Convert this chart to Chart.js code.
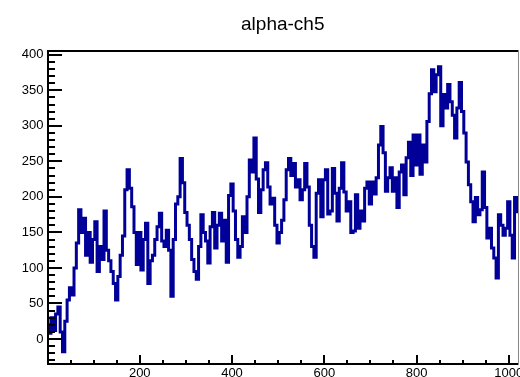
<!DOCTYPE html>
<html>
<head>
<meta charset="utf-8">
<script src="https://cdn.jsdelivr.net/npm/chart.js@4"></script>
<style>
  html, body { margin: 0; padding: 0; background: #fff; }
  #wrap { width: 520px; height: 377px; }
</style>
</head>
<body>
<div id="wrap"><canvas id="c" width="520" height="377"></canvas></div>
<script>
const TITLE = 'alpha-ch5';
const BIN_WIDTH = 5;
const X_MIN = 0, X_MAX = 1020;
const Y_MIN = -34.5, Y_MAX = 406;
const xTicks = [200, 400, 600, 800, 1000];
const yTicks = [0, 50, 100, 150, 200, 250, 300, 350, 400];

// counts per 5-channel bin (channel 0 .. 1020)
const counts = [
  20, 8, 30, 12, 35, 45, 10, -18, 25, 55,
  72, 62, 100, 135, 182, 150, 170, 118, 150, 108,
  140, 165, 95, 130, 112, 180, 125, 110, 95, 78,
  55, 88, 118, 145, 210, 238, 212, 186, 150, 105,
  150, 97, 140, 163, 78, 110, 118, 140, 158, 177,
  138, 130, 153, 125, 60, 140, 190, 200, 254, 220,
  178, 160, 140, 112, 95, 84, 130, 175, 150, 138,
  107, 158, 178, 128, 160, 177, 138, 167, 108, 202,
  218, 180, 140, 115, 130, 172, 150, 200, 252, 235,
  283, 225, 178, 210, 238, 248, 214, 190, 198, 160,
  135, 150, 167, 196, 238, 254, 230, 247, 214, 224,
  196, 210, 247, 214, 160, 130, 115, 205, 224, 172,
  224, 238, 176, 180, 240, 205, 166, 212, 248, 207,
  180, 193, 150, 152, 203, 156, 180, 166, 212, 221,
  190, 221, 204, 227, 273, 299, 262, 208, 227, 241,
  208, 227, 185, 235, 245, 203, 255, 277, 230, 287,
  245, 287, 232, 273, 249, 306, 345, 379, 348, 372,
  383, 300, 344, 325, 358, 334, 315, 283, 325, 361,
  320, 290, 249, 217, 193, 165, 199, 175, 182, 235,
  185, 142, 156, 128, 114, 86, 175, 160, 146, 156,
  193, 146, 114, 199, 179
];

const FONT = 'Liberation Sans, Arial, Helvetica, sans-serif';

// ROOT style frame: ticks drawn inward, thick frame, title over the plot
const rootFrame = {
  id: 'rootFrame',
  afterDatasetsDraw(chart) {
    const ctx = chart.ctx;
    const a = chart.chartArea;
    const x = chart.scales.x, y = chart.scales.y;
    const L = Math.round(a.left), R = Math.round(a.right);
    const T = Math.round(a.top), B = Math.round(a.bottom);
    ctx.save();
    ctx.fillStyle = '#000';

    for (let v = -30; v <= 400; v += 10) {
      const py = Math.round(y.getPixelForValue(v));
      const len = v % 50 === 0 ? 14 : 7;
      ctx.fillRect(L, py - 1, len, 2);
    }
    for (let v = 50; v <= 1000; v += 50) {
      const px = Math.round(x.getPixelForValue(v));
      const len = v % 200 === 0 ? 9 : 4;
      ctx.fillRect(px - 1, B - len, 2, len);
    }

    ctx.fillRect(L - 1, T - 1, R - L + 1, 2);
    ctx.fillRect(L - 1, T - 1, 2, B - T + 2);
    ctx.fillRect(L - 1, B - 1, R - L + 1, 2);
    ctx.fillStyle = '#888';
    ctx.fillRect(R, T - 1, 1, B - T + 2);

    ctx.fillStyle = '#000';
    ctx.font = '19px ' + FONT;
    ctx.textAlign = 'center';
    ctx.textBaseline = 'middle';
    ctx.fillText(TITLE, (a.left + a.right) / 2, 25);
    ctx.restore();
  }
};

new Chart(document.getElementById('c'), {
  type: 'line',
  data: {
    datasets: [{
      data: counts.map((v, i) => ({ x: i * BIN_WIDTH, y: v })),
      borderColor: '#000099',
      borderWidth: 3,
      pointRadius: 0,
      stepped: 'middle',
      fill: false
    }]
  },
  options: {
    responsive: false,
    animation: false,
    devicePixelRatio: 1,
    layout: { padding: { top: 50.5, right: 2, left: 0, bottom: 0 } },
    plugins: { legend: { display: false }, title: { display: false }, tooltip: { enabled: false } },
    scales: {
      x: {
        type: 'linear',
        min: X_MIN,
        max: X_MAX,
        grid: { display: false, drawTicks: false, tickLength: 0 },
        border: { display: false },
        ticks: {
          color: '#000', font: { family: FONT, size: 13 }, padding: 2, maxRotation: 0, autoSkip: false,
          callback: v => String(v)
        },
        afterBuildTicks: s => { s.ticks = xTicks.map(v => ({ value: v })); },
        afterFit: s => { s.height = 13.5; s.paddingLeft = 0; s.paddingRight = 0; }
      },
      y: {
        type: 'linear',
        min: Y_MIN,
        max: Y_MAX,
        grid: { display: false, drawTicks: false, tickLength: 0 },
        border: { display: false },
        ticks: { color: '#000', font: { family: FONT, size: 13 }, padding: 4, callback: v => String(v) },
        afterBuildTicks: s => { s.ticks = yTicks.map(v => ({ value: v })); },
        afterFit: s => { s.width = 47.5; s.paddingTop = 0; s.paddingBottom = 0; }
      }
    }
  },
  plugins: [rootFrame]
});
</script>
</body>
</html>
